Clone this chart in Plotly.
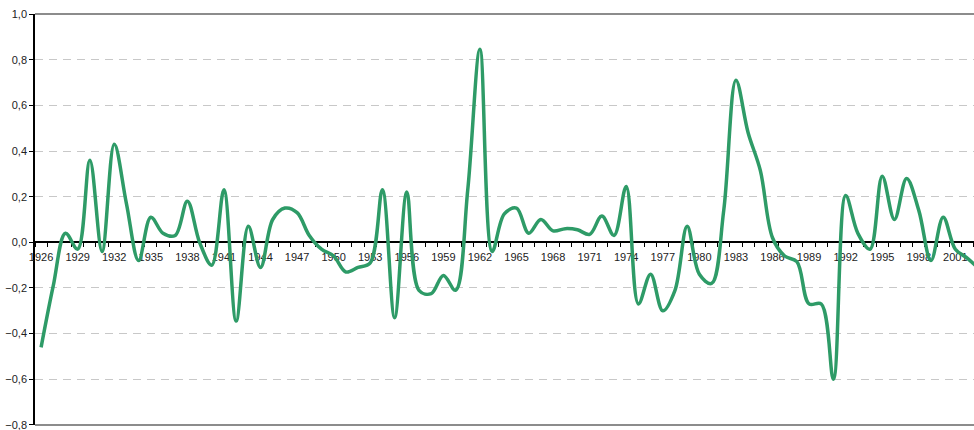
import plotly.graph_objects as go

years = list(range(1926, 2004))
values = [
    -0.46, -0.19, 0.04, -0.03, 0.36, -0.04, 0.43, 0.17, -0.08, 0.11,   # 1926-1935
    0.04, 0.03, 0.18, 0.00, -0.10, 0.23, -0.345, 0.07, -0.11, 0.10,   # 1936-1945
    0.15, 0.13, 0.03, -0.03, -0.06, -0.13, -0.11, -0.09, 0.23, -0.33,  # 1946-1955
    0.22, -0.21, -0.225, -0.145, -0.21, 0.23, 0.846, -0.04, 0.125, 0.15,  # 1956-1965
    0.04, 0.10, 0.05, 0.06, 0.055, 0.035, 0.115, 0.03, 0.245, -0.27,  # 1966-1975
    -0.14, -0.30, -0.21, 0.07, -0.14, -0.18, 0.14, 0.71, 0.48, 0.315,  # 1976-1985
    0.02, -0.06, -0.085, -0.27, -0.27, -0.60, 0.205, 0.04, -0.03, 0.29,  # 1986-1995
    0.10, 0.28, 0.14, -0.08, 0.11, -0.03, -0.07, -0.12,  # 1996-2003
]
label_years = list(range(1926, 2002, 3))
y_ticks = [-0.8, -0.6, -0.4, -0.2, 0.0, 0.2, 0.4, 0.6, 0.8, 1.0]

fig = go.Figure()
fig.add_trace(go.Scatter(
    x=years, y=values, mode="lines",
    line=dict(color="#2e9b67", width=3.5, shape="spline", smoothing=1.0),
    showlegend=False, hoverinfo="skip",
))

fig.update_layout(
    width=974, height=430,
    margin=dict(l=35, r=0, t=14, b=5),
    paper_bgcolor="white", plot_bgcolor="white",
    separators=",.",
    font=dict(family="Liberation Sans, Arial, sans-serif", size=11, color="#222222"),
    xaxis=dict(
        range=[1925.5, 2002.53],
        anchor="free", position=0.8 / 1.8,
        tickmode="array", tickvals=label_years, ticktext=[str(y) for y in label_years],
        ticks="outside", ticklen=5, tickcolor="rgba(0,0,0,0)",
        showline=True, linecolor="black", linewidth=1.5,
        showgrid=False, zeroline=False,
        layer="below traces",
        ticklabeloverflow="allow",
        minor=dict(tickmode="linear", tick0=1925.5, dtick=1, ticks="outside",
                   ticklen=4, tickcolor="black", tickwidth=1, showgrid=False),
        tickfont=dict(size=11, color="#222222"),
    ),
    yaxis=dict(
        range=[-0.8002, 1.0002], domain=[0, 1],
        tickmode="array", tickvals=y_ticks, tickformat=".1f",
        ticks="outside", ticklen=4, tickcolor="black", tickwidth=1,
        showline=True, linecolor="black", linewidth=1.5,
        showgrid=True, gridcolor="#c8c8c8", gridwidth=1, griddash="8px,6px",
        zeroline=False,
        layer="below traces",
        ticklabeloverflow="allow",
        tickfont=dict(size=11, color="#222222"),
    ),
    shapes=[
        dict(type="line", xref="paper", yref="paper", x0=0, x1=1, y0=1, y1=1,
             line=dict(color="#8c8c8c", width=2)),
        dict(type="line", xref="paper", yref="paper", x0=0, x1=1, y0=0, y1=0,
             line=dict(color="#8c8c8c", width=2)),
    ],
)

fig.write_html("out.html", config={"displayModeBar": False},
               post_script="document.body.style.margin='0';document.body.style.overflow='hidden';")
